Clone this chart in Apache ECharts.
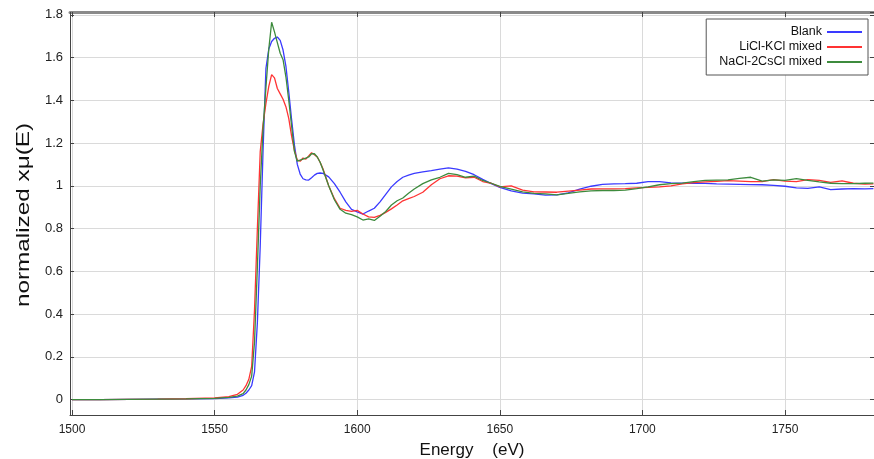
<!DOCTYPE html>
<html>
<head>
<meta charset="utf-8">
<script src="https://cdn.jsdelivr.net/npm/echarts@6/dist/echarts.min.js"></script>
<style>html,body{margin:0;padding:0;background:#fff;}#chart{width:874px;height:459px;}</style>
</head>
<body>
<div id="chart"></div>
<script>
const energy = [1500,1510,1520,1530,1540,1550,1555,1558,1560,
  1561,1562,1563,1564,1565,1566,1567,1568,1569,1570,1571,1572,1573,1574,1575,1576,1577,1578,1579,1580,1581,1582,1583,1584,1585,1586,1587,1588,
  1590,1592,1594,1596,1598,1600,1602,1604,1606,1608,1610,1612,1614,1616,1618,1620,
  1623,1626,1629,1632,1635,1638,1641,1644,1647,1650,
  1654,1658,1662,1666,1670,1674,1678,1682,1686,1690,1694,1698,1702,1706,1710,1714,1718,1722,1726,1730,1734,1738,1742,1746,1750,1754,1758,1762,1766,1770,1774,1778,
  1781];

const blank = [0.0,0.0,0.001,0.002,0.003,0.005,0.008,0.012,0.02,
  0.03,0.045,0.065,0.13,0.36,0.72,1.17,1.55,1.64,1.675,1.69,1.696,1.68,1.635,1.56,1.44,1.31,1.19,1.10,1.055,1.033,1.028,1.027,1.038,1.05,1.058,1.06,1.058,
  1.042,1.01,0.97,0.925,0.89,0.878,0.868,0.882,0.895,0.925,0.96,0.995,1.02,1.04,1.05,1.058,
  1.065,1.071,1.078,1.084,1.078,1.068,1.052,1.03,1.01,0.993,
  0.976,0.966,0.962,0.956,0.958,0.967,0.985,0.998,1.007,1.009,1.01,1.012,1.02,1.02,1.014,1.013,1.012,1.011,1.009,1.008,1.007,1.006,1.005,1.002,0.998,0.99,0.988,0.995,0.982,0.985,0.987,0.986,
  0.987];

const licl = [0.0,0.0,0.001,0.002,0.004,0.008,0.014,0.025,0.045,
  0.065,0.095,0.155,0.42,0.80,1.16,1.29,1.385,1.465,1.52,1.505,1.455,1.43,1.405,1.37,1.315,1.232,1.165,1.12,1.115,1.13,1.125,1.14,1.155,1.145,1.135,1.11,1.08,
  1.00,0.94,0.895,0.885,0.88,0.885,0.868,0.855,0.852,0.862,0.876,0.892,0.91,0.93,0.94,0.95,
  0.97,1.005,1.033,1.047,1.045,1.037,1.04,1.02,1.012,0.995,
  1.0,0.98,0.972,0.971,0.97,0.975,0.98,0.985,0.986,0.986,0.987,0.99,0.993,0.995,1.0,1.009,1.015,1.018,1.021,1.024,1.022,1.02,1.02,1.029,1.022,1.02,1.029,1.025,1.016,1.023,1.012,1.008,
  1.009];

const nacl = [0.0,0.0,0.001,0.002,0.003,0.006,0.01,0.016,0.028,
  0.045,0.07,0.11,0.27,0.62,1.0,1.27,1.46,1.64,1.765,1.72,1.67,1.62,1.59,1.51,1.40,1.28,1.16,1.115,1.12,1.125,1.13,1.135,1.15,1.15,1.135,1.11,1.075,
  1.00,0.935,0.89,0.872,0.865,0.855,0.84,0.845,0.838,0.858,0.88,0.91,0.93,0.943,0.965,0.985,
  1.01,1.028,1.04,1.058,1.052,1.04,1.045,1.025,1.012,0.997,
  0.985,0.972,0.965,0.962,0.958,0.965,0.972,0.976,0.978,0.978,0.98,0.987,0.995,1.005,1.01,1.013,1.02,1.025,1.027,1.028,1.035,1.04,1.022,1.028,1.025,1.034,1.025,1.018,1.012,1.01,1.01,1.012,
  1.013];

const seriesNames = ['Blank', 'LiCl-KCl mixed', 'NaCl-2CsCl mixed'];
const seriesColors = ['#3a3aff', '#ff3333', '#3d8b3d'];
const xTitle = 'Energy    (eV)';
const yTitle = 'normalized xμ(E)';

function pairs(vals) { return energy.map((e, i) => [e, vals[i]]); }

const xMin = 1499.3, xMax = 1781.2, yMin = -0.072, yMax = 1.813;
const font = '"Liberation Sans", Arial, sans-serif';

const chart = echarts.init(document.getElementById('chart'), null, {renderer: 'canvas'});
chart.setOption({
  animation: false,
  backgroundColor: '#fff',
  textStyle: {fontFamily: font},
  grid: {left: 70, right: 0, top: 12, bottom: 44, containLabel: false, outerBoundsMode: 'none'},
  legend: {
    orient: 'vertical', align: 'right', right: 6, top: 19,
    backgroundColor: '#fff', borderColor: '#555', borderWidth: 1, borderRadius: 0,
    padding: [6, 5, 6, 13], itemGap: 1, itemWidth: 35, itemHeight: 14,
    itemStyle: {opacity: 0},
    textStyle: {fontSize: 12.5, color: '#111', lineHeight: 14, fontFamily: font},
    data: seriesNames
  },
  graphic: [{
    type: 'text', x: 24, y: 215, rotation: Math.PI / 2, scaleX: 1.35, scaleY: 1,
    style: {text: yTitle, font: '18px "Liberation Sans", Arial, sans-serif', fill: '#111',
      textAlign: 'center', textVerticalAlign: 'middle'}
  }],
  xAxis: [{
    type: 'value', min: xMin, max: xMax, splitNumber: 6,
    axisLine: {onZero: false, lineStyle: {color: '#444'}},
    axisTick: {inside: true, length: 5, lineStyle: {color: '#444'}},
    axisLabel: {showMinLabel: false, showMaxLabel: false, color: '#222', fontSize: 12, margin: 9, fontFamily: font,
      formatter: v => String(Math.round(v))},
    splitLine: {show: true, lineStyle: {color: '#dadada'}},
    name: xTitle, nameLocation: 'middle', nameGap: 27,
    nameTextStyle: {fontSize: 17, color: '#111', fontFamily: font}
  }, {
    type: 'value', position: 'top', min: xMin, max: xMax, splitNumber: 6,
    axisLine: {onZero: false, lineStyle: {color: '#8a8a8a', width: 3}},
    axisTick: {inside: true, length: 5, lineStyle: {color: '#444'}},
    axisLabel: {show: false}, splitLine: {show: false}
  }],
  yAxis: [{
    type: 'value', min: yMin, max: yMax, splitNumber: 10,
    axisLine: {show: true, onZero: false, lineStyle: {color: '#444'}},
    axisTick: {show: true, inside: true, length: 4, lineStyle: {color: '#444'}},
    axisLabel: {showMinLabel: false, showMaxLabel: false, color: '#222', fontSize: 13, margin: 7, fontFamily: font,
      formatter: v => String(+v.toFixed(2))},
    splitLine: {show: true, lineStyle: {color: '#dadada'}}
  }, {
    type: 'value', position: 'right', min: yMin, max: yMax, splitNumber: 10,
    axisLine: {show: false, onZero: false},
    axisTick: {show: true, inside: true, length: 4, lineStyle: {color: '#444'}},
    axisLabel: {show: false}, splitLine: {show: false}
  }],
  series: seriesNames.map((name, i) => ({
    name: name, type: 'line', xAxisIndex: 0, yAxisIndex: 0,
    data: pairs([blank, licl, nacl][i]),
    symbol: 'none', showSymbol: false, smooth: false,
    lineStyle: {width: 1.3, color: seriesColors[i]},
    itemStyle: {color: seriesColors[i]}
  }))
});
</script>
</body>
</html>
